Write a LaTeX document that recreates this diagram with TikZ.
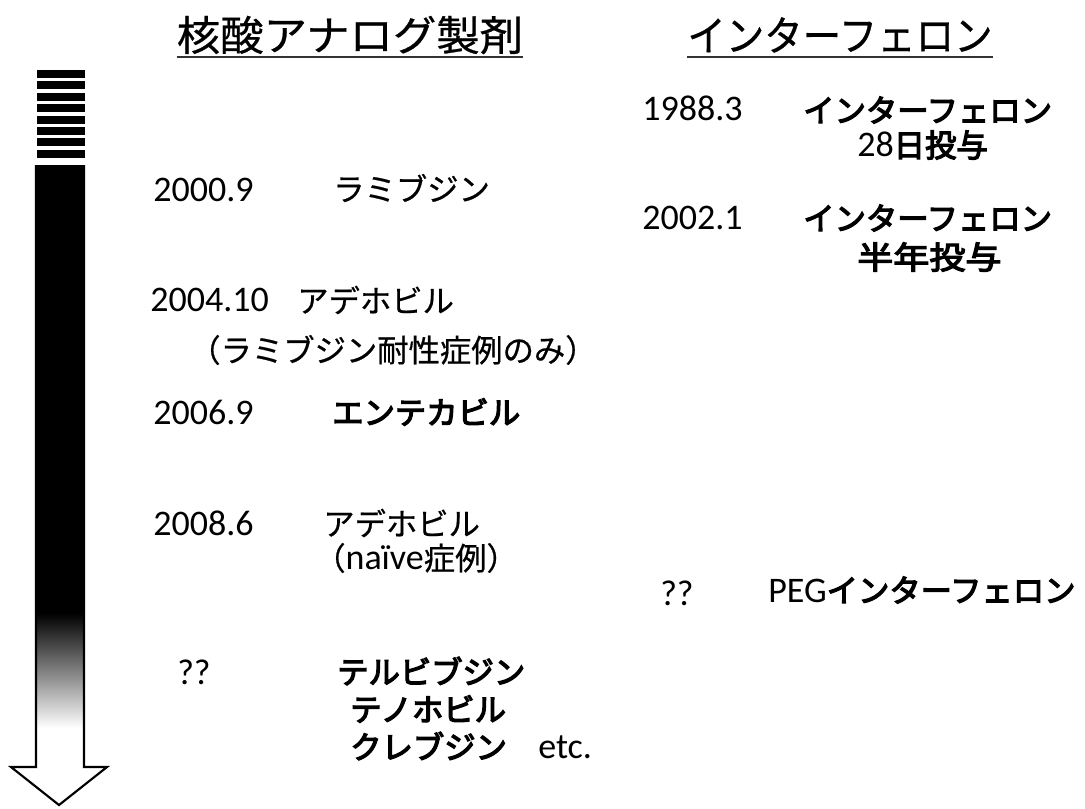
\documentclass[tikz,border=0pt]{standalone}
\usepackage{fontspec}
\setmainfont{Carlito}
\newfontfamily\jp[FakeBold=0.6]{Noto Sans CJK JP}
\newfontfamily\jpbold[FakeBold=4]{Noto Sans CJK JP}
\begin{document}
\begin{tikzpicture}[x=0.75pt,y=-0.75pt,
  num/.style={anchor=west,inner sep=0,font=\rmfamily\fontsize{27}{30}\selectfont},
  jpt/.style={anchor=west,inner sep=0,font=\jp\fontsize{23.5}{28}\selectfont},
  jpb/.style={anchor=west,inner sep=0,font=\jpbold\fontsize{23.5}{28}\selectfont},
  ttl/.style={anchor=center,inner sep=0,font=\jp\fontsize{31}{36}\selectfont},
  uline/.style={line width=1.2pt,black!80},
  outline/.style={line width=1.6pt,black,line join=miter}]
\useasboundingbox (0,0) rectangle (1085,808);

% ---- arrow ----
\foreach \i in {0,...,7}
  \fill (37,{70+\i*11.4}) rectangle (85,{70+\i*11.4+8});
\fill (36,165) rectangle (84,614);
\shade[top color=black,bottom color=white] (36,613) rectangle (84,728);
\draw[outline] (36,165) -- (36,767) -- (11,767) -- (59,805) -- (107,767) -- (84,767) -- (84,165);

% ---- titles ----
\coordinate (ul) at (0,57);
\node[ttl,xscale=1.05,transform shape] (t1) at (350,35) {核酸アナログ製剤};
\node[ttl,xscale=0.93,transform shape] (t2) at (840,35) {インターフェロン};
\draw[uline] (t1.west |- ul) -- (t1.east |- ul);
\draw[uline] (t2.west |- ul) -- (t2.east |- ul);

% ---- right column ----
\node[num] (r1d) at (642,108) {1988.3};
\node[jpb] (r1a) at (803,110) {インターフェロン};
\node[jpb] (r1b) at (857,145) {{\rmfamily\fontsize{27}{30}\selectfont 28}日投与};
\node[num] (r2d) at (642,218) {2002.1};
\node[jpb] (r2a) at (803,218) {インターフェロン};
\node[jpb,xscale=1.15,transform shape] (r2b) at (857,257) {半年投与};
\node[num] (r3d) at (660,593) {??};
\node[jpb] (r3a) at (768,590) {{\rmfamily\mdseries\fontsize{27}{30}\selectfont PEG}インターフェロン};

% ---- left column ----
\node[num] (l1d) at (153,190) {2000.9};
\node[jpt] (l1a) at (333,188) {ラミブジン};
\node[num] (l2d) at (150,300) {2004.10};
\node[jpt] (l2a) at (297,300) {アデホビル};
\node[jpt] (l2b) at (189,350) {（ラミブジン耐性症例のみ）};
\node[num] (l3d) at (153,412) {2006.9};
\node[jpb] (l3a) at (332,412) {エンテカビル};
\node[num] (l4d) at (153,523) {2008.6};
\node[jpt] (l4a) at (323,523) {アデホビル};
\node[jpt] (l4b) at (314,558) {（{\rmfamily\fontsize{27}{30}\selectfont naïve}症例）};
\node[num] (l5d) at (177,672) {??};
\node[jpb] (l5a) at (337,671) {テルビブジン};
\node[jpb] (l5b) at (350,709) {テノホビル};
\node[jpb] (l5c) at (350,746) {クレブジン};
\node[num] (l5e) at (538,747) {etc.};
\end{tikzpicture}
\end{document}
